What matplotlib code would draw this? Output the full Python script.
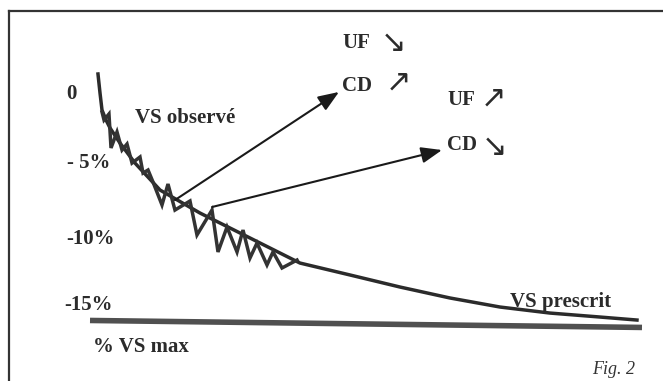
import matplotlib.pyplot as plt
from matplotlib.lines import Line2D

# session time (% of session) and blood volume change (%)
presc_t = [1.45, 1.82, 2.18, 2.91, 3.64, 5.45, 8.18, 12.73, 20.0, 29.09,
           38.18, 47.27, 56.36, 65.45, 74.55, 83.64, 92.73, 99.45]
presc_v = [1.46, 0.07, -1.17, -1.90, -2.48, -3.58, -5.04, -7.01, -8.69, -10.51,
           -12.34, -13.21, -14.09, -14.89, -15.55, -15.99, -16.28, -16.50]

obs_t = [2.18, 2.55, 3.45, 3.82, 4.91, 5.82, 6.73, 7.64, 9.09, 9.64, 10.55,
         11.45, 13.09, 14.18, 15.45, 18.18, 19.45, 22.18, 23.27, 24.91, 26.73,
         27.82, 29.09, 30.36, 32.18, 33.27, 34.91, 37.64]
obs_v = [-1.31, -1.90, -1.46, -3.94, -2.77, -4.09, -3.65, -5.04, -4.60, -5.77,
         -5.55, -6.42, -8.10, -6.57, -8.47, -7.81, -10.29, -8.47, -11.53, -9.71,
         -11.53, -9.93, -11.97, -10.88, -12.48, -11.53, -12.70, -12.12]

# "% VS max" reference line
vsmax_t = [0.0, 100.36]
vsmax_v = [-16.53, -17.04]

# arrows from the observed curve to the UF / CD annotations
arrow_start = [(15.45, -7.74), (22.18, -8.25)]
arrow_end = [(45.27, 0.15), (64.0, -4.09)]

tick_labels = ['0', '- 5%', '-10%', '-15%']

serif = ['Liberation Serif', 'DejaVu Serif']
symb = ['DejaVu Sans']

fig = plt.figure(figsize=(6.63, 3.81), dpi=100)
ax = fig.add_axes([0, 0, 1, 1])
ax.set_xlim(-16.364, 104.18)
ax.set_ylim(-20.949, 6.861)
ax.axis('off')

ink = '#2b2b2b'

ax.plot(presc_t, presc_v, color=ink, lw=2.5, solid_joinstyle='round')
ax.plot(obs_t, obs_v, color='#333333', lw=2.5, solid_joinstyle='miter')
ax.plot(vsmax_t, vsmax_v, color='#505050', lw=4.0, solid_capstyle='butt')

for s, e in zip(arrow_start, arrow_end):
    ax.annotate('', xy=e, xytext=s,
                arrowprops=dict(arrowstyle='-|>,head_length=0.9,head_width=0.35',
                                color='#1a1a1a', lw=1.5, mutation_scale=14,
                                shrinkA=0, shrinkB=0))

bold = dict(fontsize=15, fontweight='bold', family=serif, color=ink, va='center')

# y labels
ax.text(-3.45, 0.0, tick_labels[0], ha='center', **bold)
ax.text(-4.18, -5.04, tick_labels[1], ha='left', **bold)
ax.text(-4.36, -10.58, tick_labels[2], ha='left', **bold)
ax.text(-4.73, -15.4, tick_labels[3], ha='left', **bold)

ax.text(8.18, -1.75, 'VS observé', ha='left', **bold)
ax.text(76.4, -15.2, 'VS prescrit', ha='left', **bold)
ax.text(0.5, -18.5, '% VS max', ha='left', **bold)
ax.text(91.3, -20.1, 'Fig. 2', ha='left', va='center', fontsize=13,
        style='italic', family=serif, color='#333333')

# UF / CD labels with trend arrows
arr = dict(ha='center', va='center', fontsize=22, family=symb, color=ink)
ax.text(45.9, 3.72, 'UF', ha='left', **bold)
ax.text(55.1, 3.72, '↘', **arr)
ax.text(45.9, 0.55, 'CD', ha='left', **bold)
ax.text(56.0, 0.88, '↗', **arr)
ax.text(64.9, -0.44, 'UF', ha='left', **bold)
ax.text(73.3, -0.29, '↗', **arr)
ax.text(64.9, -3.72, 'CD', ha='left', **bold)
ax.text(73.6, -3.87, '↘', **arr)

# frame (left and top edges only)
fig.add_artist(Line2D([0.0143, 0.0143], [0.0, 0.971], color='#333333', lw=1.6,
                      transform=fig.transFigure))
fig.add_artist(Line2D([0.0143, 1.0], [0.971, 0.971], color='#333333', lw=1.6,
                      transform=fig.transFigure))

fig.savefig('out.png', dpi=100, facecolor='white')
